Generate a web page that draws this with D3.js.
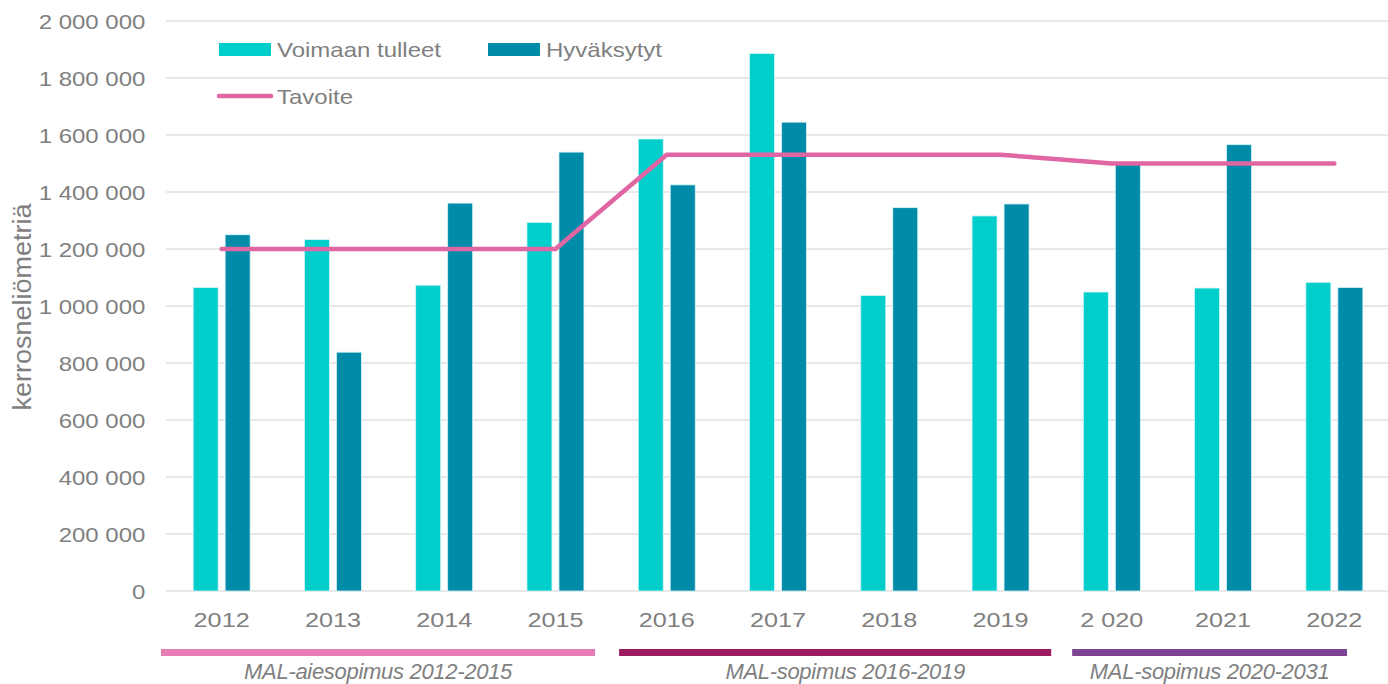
<!DOCTYPE html>
<html>
<head>
<meta charset="utf-8">
<script src="https://cdn.jsdelivr.net/npm/d3@7"></script>
<style>
  body { margin: 0; background: #fff; }
  svg text { font-family: "Liberation Sans", Arial, sans-serif; fill: #7f7f7f; }
  .tick line, .domain { display: none; }
</style>
</head>
<body>
<svg width="1388" height="684"></svg>
<script>
// **** Data ****
var years = ['2012','2013','2014','2015','2016','2017','2018','2019','2 020','2021','2022'];
var voimaan = [1065000,1233000,1073000,1293000,1586000,1886000,1037000,1316000,1049000,1063000,1083000];
var hyvaksytyt = [1250000,838000,1361000,1540000,1425000,1645000,1345000,1358000,1505000,1566000,1065000];
var tavoite = [1200000,1200000,1200000,1200000,1531000,1531000,1531000,1531000,1500000,1500000,1500000];
var yTicks = [0,200000,400000,600000,800000,1000000,1200000,1400000,1600000,1800000,2000000];
var periodLabels = ['MAL-aiesopimus 2012-2015', 'MAL-sopimus 2016-2019', 'MAL-sopimus 2020-2031'];
var periodFrom = ['2012', '2016', '2 020'];
var periodTo = ['2015', '2019', '2022'];

var seriesNames = ['Voimaan tulleet', 'Hyväksytyt'];
var seriesColors = ['#00cecb', '#008ba8'];
var periodColors = ['#e77db5', '#9e1a5e', '#7d4493'];
// bar ends relative to the category bands (start offset, end offset)
var periodTrim = [[-5, -16], [8, -5], [16, -43]];

// **** Scales ****
var svg = d3.select('svg');

var x = d3.scaleBand().domain(years).range([166, 1390]);
var xInner = d3.scaleBand().domain([0, 1]).range([0, 57]).paddingInner(0.21875);
var y = d3.scaleLinear().domain([0, 2000000]).range([591, 21]);

var stretch = 'scale(1.2,1)'; // the original text is drawn wide

function fmt(v) {
    return d3.format(',')(v).replace(/,/g, ' ');
}

// gridlines
svg.append('g').selectAll('line')
    .data(yTicks)
    .enter()
    .append('line')
    .attr('x1', 166).attr('x2', 1388)
    .attr('y1', function(d) { return y(d); })
    .attr('y2', function(d) { return y(d); })
    .attr('stroke', '#e0e0e0')
    .attr('stroke-width', 1.5);

// y axis
svg.append('g')
    .attr('transform', 'translate(149,0)')
    .call(d3.axisLeft(y).tickValues(yTicks).tickFormat(fmt).tickSize(0).tickPadding(3))
    .selectAll('text')
    .style('font-size', '20px')
    .attr('dy', '0.35em')
    .attr('transform', stretch);

svg.append('text')
    .attr('transform', 'translate(31,307) rotate(-90) scale(1.08,1)')
    .attr('text-anchor', 'middle')
    .style('font-size', '25px')
    .text('kerrosneliömetriä');

// x axis
svg.append('g')
    .attr('transform', 'translate(0,605)')
    .call(d3.axisBottom(x).tickSize(0).tickPadding(3))
    .selectAll('text')
    .style('font-size', '21px')
    .attr('y', 0)
    .attr('dy', '1.05em')
    .attr('transform', stretch);

// **** Bars ****
var allSeries = [voimaan, hyvaksytyt];
allSeries.forEach(function(vals, si) {
    svg.append('g').selectAll('rect')
        .data(years)
        .enter()
        .append('rect')
        .attr('x', function(d) { return x(d) + x.bandwidth() / 2 - 28.5 + xInner(si); })
        .attr('y', function(d, i) { return y(vals[i]); })
        .attr('width', xInner.bandwidth())
        .attr('height', function(d, i) { return y(0) - y(vals[i]); })
        .attr('fill', seriesColors[si])
        .attr('stroke', '#d6f3f5')
        .attr('stroke-width', 0.8);
});

// **** Tavoite line ****
var line = d3.line()
    .x(function(d, i) { return x(years[i]) + x.bandwidth() / 2; })
    .y(function(d) { return y(d); });

svg.append('path')
    .datum(tavoite)
    .attr('d', line)
    .attr('fill', 'none')
    .attr('stroke', '#e066a3')
    .attr('stroke-width', 4.5)
    .attr('stroke-linecap', 'round')
    .attr('stroke-linejoin', 'round');

// **** Legend ****
var legend = svg.append('g');
legend.append('rect').attr('x', 219).attr('y', 43).attr('width', 52).attr('height', 13).attr('fill', seriesColors[0]);
legend.append('text').attr('transform', 'translate(277,57) ' + stretch).style('font-size', '20px').text(seriesNames[0]);
legend.append('rect').attr('x', 488).attr('y', 43).attr('width', 52).attr('height', 13).attr('fill', seriesColors[1]);
legend.append('text').attr('transform', 'translate(546,57) ' + stretch).style('font-size', '20px').text(seriesNames[1]);
legend.append('line').attr('x1', 219).attr('x2', 271).attr('y1', 96).attr('y2', 96)
    .attr('stroke', '#e066a3').attr('stroke-width', 4.5).attr('stroke-linecap', 'round');
legend.append('text').attr('transform', 'translate(277,104) ' + stretch).style('font-size', '20px').text('Tavoite');

// **** Agreement periods ****
var pg = svg.append('g').selectAll('g')
    .data(periodLabels)
    .enter()
    .append('g');

function pStart(i) { return x(periodFrom[i]) + periodTrim[i][0]; }
function pEnd(i) { return x(periodTo[i]) + x.bandwidth() + periodTrim[i][1]; }

pg.append('rect')
    .attr('x', function(d, i) { return pStart(i); })
    .attr('y', 649)
    .attr('width', function(d, i) { return pEnd(i) - pStart(i); })
    .attr('height', 7)
    .attr('fill', function(d, i) { return periodColors[i]; });

pg.append('text')
    .attr('x', function(d, i) { return (pStart(i) + pEnd(i)) / 2 + (i == 1 ? 10 : 0); })
    .attr('y', 679)
    .attr('text-anchor', 'middle')
    .style('font-style', 'italic')
    .style('font-size', '22px')
    .attr('letter-spacing', '-0.3')
    .text(function(d) { return d; });
</script>
</body>
</html>
